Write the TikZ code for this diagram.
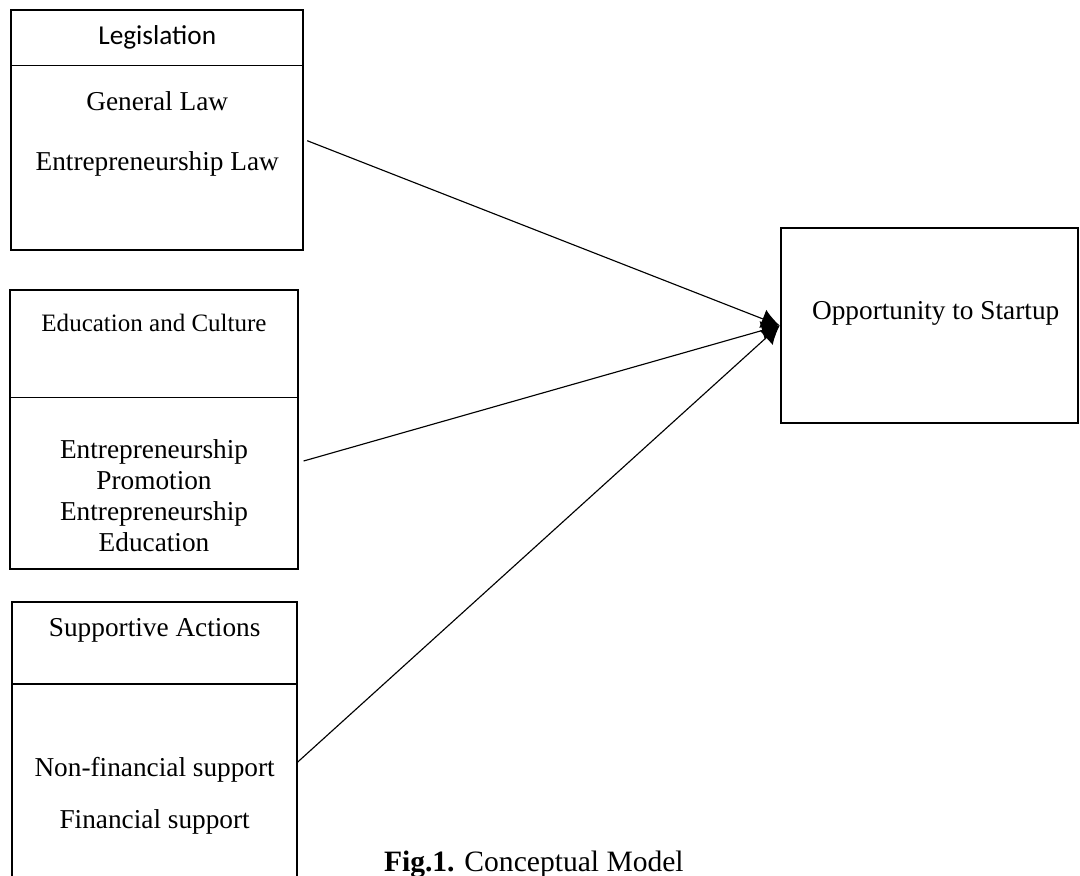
\documentclass[tikz,border=0pt]{standalone}
\usepackage{fontspec}
\setmainfont{Liberation Serif}
\newfontfamily\headfont{Carlito}
\usetikzlibrary{positioning, arrows.meta, fit}

\begin{document}
\begin{tikzpicture}[
    part/.style={draw, line width=0.4pt, inner sep=0pt, minimum width=#1},
    frame/.style={draw, line width=0.9pt, inner sep=0pt},
    link/.style={-{Latex[length=0.28cm, width=0.3cm]}, line width=0.5pt},
    txt/.style={font=\fontsize{12}{13.6}\selectfont, align=center, inner sep=0pt}
  ]
  \useasboundingbox (0,0) rectangle (16.69,-13.53);

  % Legislation box: header on top, body below it
  \node (leg_head) [part=4.5cm, minimum height=0.85cm, txt, font=\headfont\fontsize{12}{14}\selectfont] at (2.43,-0.58) {Legislation};
  \node (leg_body) [part=4.5cm, minimum height=2.83cm, below=0cm of leg_head] {};
  \node (leg_frame) [frame, fit=(leg_head) (leg_body)] {};
  \node (gen_law) [txt] at ([yshift=-0.55cm]leg_head.south) {General Law};
  \node (ent_law) [txt] at ([yshift=-1.52cm]leg_head.south) {Entrepreneurship Law};

  % Education and Culture box
  \node (edu_head) [part=4.45cm, minimum height=1.65cm] at (2.38,-5.31) {};
  \node [txt, font=\fontsize{11}{13}\selectfont] at ([yshift=-0.51cm]edu_head.north) {Education and Culture};
  \node (edu_body) [part=4.45cm, minimum height=2.63cm, below=0cm of edu_head] {};
  \node (edu_frame) [frame, fit=(edu_head) (edu_body)] {};
  \node (edu_items) [txt] at ([yshift=-0.2cm]edu_body.center) {Entrepreneurship\\Promotion\\Entrepreneurship\\Education};

  % Supportive Actions box (runs off the bottom edge)
  \node (sup_head) [part=4.4cm, minimum height=1.25cm] at (2.39,-9.94) {};
  \node [txt] at ([yshift=-0.44cm]sup_head.north) {Supportive Actions};
  \node (sup_body) [part=4.4cm, minimum height=3.12cm, below=0cm of sup_head] {};
  \node (sup_frame) [frame, fit=(sup_head) (sup_body)] {};
  \node (non_fin) [txt] at ([yshift=-1.33cm]sup_body.north) {Non-financial support};
  \node (fin) [txt] at ([yshift=-2.13cm]sup_body.north) {Financial support};

  % Target box
  \node (opp) [frame, minimum width=4.59cm, minimum height=3.01cm] at (14.36,-5.03) {};
  \node [txt] at ([xshift=0.1cm, yshift=0.19cm]opp.center) {Opportunity to Startup};

  % Arrows into the target
  \draw [link] ([xshift=0.06cm, yshift=0.26cm]leg_body.east) -- (opp.west);
  \draw [link] ([xshift=0.08cm, yshift=0.34cm]edu_body.east) -- (opp.west);
  \draw [link] ([yshift=0.36cm]sup_body.east) -- (opp.west);

  % Caption
  \node (caption) [anchor=base, inner sep=0pt, font=\fontsize{13}{15}\selectfont] at (8.25,-13.46) {\textbf{Fig.1.} Conceptual Model};
\end{tikzpicture}
\end{document}
